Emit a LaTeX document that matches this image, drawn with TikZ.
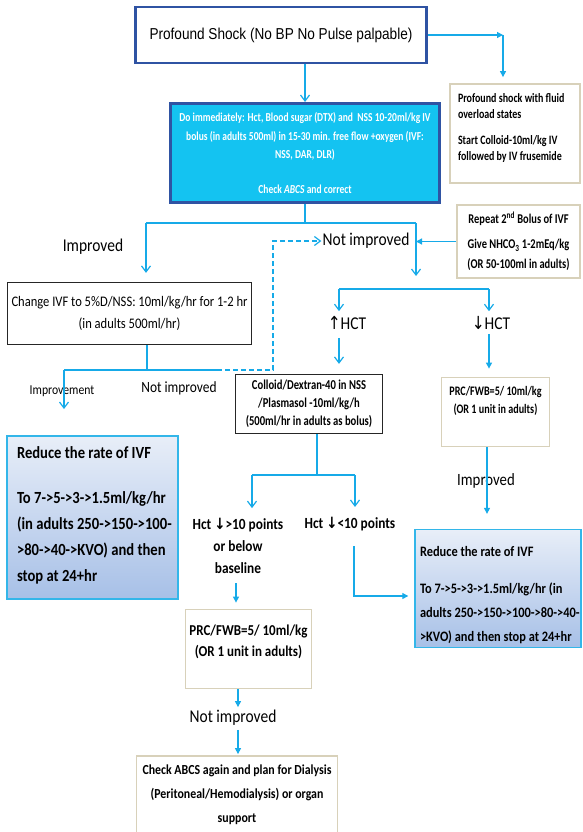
\documentclass[tikz,border=0pt]{standalone}
\usepackage{fontspec}
\setmainfont{Carlito}[FakeStretch=0.86]
\newfontfamily\narrowfont{Carlito}[FakeStretch=0.78]
\newfontfamily\arialfont{Liberation Sans}[FakeStretch=0.86]
\newfontfamily\arrowfont{DejaVu Sans}[FakeStretch=0.86]
\usetikzlibrary{arrows.meta,shapes}
\definecolor{flowblue}{HTML}{16AAE8}
\definecolor{darkframe}{HTML}{2F53A3}
\definecolor{cyanfill}{HTML}{14C3F1}
\definecolor{beige}{HTML}{D8D1BA}
\definecolor{paleblue}{HTML}{E8EEF8}
\definecolor{midblue}{HTML}{A7C0E7}
\definecolor{skyframe}{HTML}{33B6E9}
\newcommand{\setsize}[2]{\fontsize{#1}{#2}\selectfont\exhyphenpenalty=10000 }
\tikzstyle{flow}=[draw=flowblue, line width=1.2pt]
\tikzstyle{open arrow}=[flow, -{Straight Barb[length=6pt,width=9pt]}]
\tikzstyle{filled arrow}=[flow, -{Triangle[length=6pt,width=6pt]}]
\tikzstyle{shock box}=[draw=darkframe, line width=2.6pt, minimum width=291pt, minimum height=56pt, font=\arialfont\setsize{15.8}{18}]
\tikzstyle{urgent box}=[draw=darkframe, fill=cyanfill, line width=3pt, text=white, align=center, minimum width=269pt, minimum height=99pt, font=\narrowfont\setsize{12.2}{18.5}\bfseries]
\tikzstyle{plain box}=[draw=black!85, line width=1.2pt, align=center]
\tikzstyle{beige box}=[draw=beige, line width=1.8pt, align=center]
\tikzstyle{rate box}=[draw=skyframe, line width=1.4pt, top color=paleblue, bottom color=midblue, align=flush left]
\tikzstyle{tag}=[inner sep=1pt]

\begin{document}
\begin{tikzpicture}[x=1pt,y=-1pt]
    \useasboundingbox (0,0) rectangle (582,832);
    % First we draw the boxes
    \node[shock box] (shock) at (281,35) {Profound Shock (No BP No Pulse palpable)};
    \node[urgent box] (bolus) at (305,153) {Do immediately: Hct, Blood sugar (DTX) and\ \ NSS 10-20ml/kg IV\\ bolus (in adults 500ml) in 15-30 min. free flow +oxygen (IVF:\\ NSS, DAR, DLR)\\[16pt] Check \textit{ABCS} and correct};
    \node[beige box, align=flush left, text width=114pt, minimum width=130pt, minimum height=99pt, font=\narrowfont\setsize{12.8}{16}\bfseries] (overload) at (515,133.5) {Profound shock with fluid\\ overload states\\[10pt] Start Colloid-10ml/kg IV\\ followed by IV frusemide\\[-3pt] \mbox{}};
    \node[beige box, minimum width=123pt, minimum height=73pt, font=\narrowfont\setsize{13.4}{20}\bfseries] (repeat) at (518.5,241.5) {Repeat 2\textsuperscript{nd} Bolus of IVF\\[5pt] Give NHCO\textsubscript{3} 1-2mEq/kg\\ (OR 50-100ml in adults)};
    \node[plain box, minimum width=244pt, minimum height=62pt, font=\setsize{14.6}{22}] (change) at (129.5,313.5) {Change IVF to 5\%D/NSS: 10ml/kg/hr for 1-2 hr\\ (in adults 500ml/hr)};
    \node[plain box, minimum width=147pt, minimum height=59pt, font=\narrowfont\setsize{13.6}{18}\bfseries] (colloid) at (309,404) {Colloid/Dextran-40 in NSS\\ /Plasmasol -10ml/kg/h\\ (500ml/hr in adults as bolus)};
    \node[beige box, minimum width=108pt, minimum height=69pt, font=\narrowfont\setsize{13}{18}\bfseries] (prcright) at (495.5,412) {PRC/FWB=5/ 10ml/kg\\ (OR 1 unit in adults)\\[6pt] \mbox{}};
    \node[rate box, text width=151pt, inner xsep=10pt, minimum height=163pt, font=\setsize{17}{26}\bfseries] (rateleft) at (92.5,517.5) {Reduce the rate of IVF\\[19pt] \mbox{To 7->5->3->1.5ml/kg/hr}\\ \mbox{(in adults 250->150->100-}\\ \mbox{>80->40->KVO) and then}\\ stop at 24+hr\\[-20pt] \mbox{}};
    \node[rate box, text width=156pt, inner xsep=5pt, minimum height=111pt, font=\setsize{14.4}{24}\bfseries] (rateright) at (498,588.5) {\mbox{}\\ Reduce the rate of IVF\\[13pt] \mbox{To 7->5->3->1.5ml/kg/hr (in}\\ \mbox{adults 250->150->100->80->40-}\\ \mbox{>KVO) and then stop at 24+hr}};
    \node[beige box, minimum width=126pt, minimum height=79pt, font=\setsize{15.1}{21}\bfseries] (prcleft) at (248.5,649) {PRC/FWB=5/ 10ml/kg\\ (OR 1 unit in adults)\\[-4pt] \mbox{}};
    \node[beige box, minimum width=201pt, minimum height=78pt, font=\setsize{13.8}{24}\bfseries] (dialysis) at (237,795) {Check ABCS again and plan for Dialysis\\ (Peritoneal/Hemodialysis) or organ\\ support};

    % Then the words on the connectors
    \foreach \pos/\name/\txt in {{(93,247)/improved/Improved}, {(366,241)/notimproved/Not improved}, {(347,323)/hctup/{{\arrowfont ↑}HCT}}, {(491,323)/hctdown/{{\arrowfont ↓}HCT}}, {(233,718)/notimprovedlow/Not improved}}
        \node[tag, font=\setsize{18}{20}] (\name) at \pos {\txt};
    \node[tag, font=\setsize{13.6}{15}] (improvement) at (62,391) {Improvement};
    \node[tag, font=\setsize{15.6}{17}] (notimprovedleft) at (179,388) {Not improved};
    \node[tag, font=\setsize{17.2}{19}] (improvedright) at (486,481) {Improved};
    \node[tag, align=center, font=\setsize{15.5}{22}\bfseries] (hctmore) at (238,546) {Hct {\arrowfont ↓}>10 points\\ or below\\ baseline};
    \node[tag, font=\setsize{15.5}{22}\bfseries] (hctless) at (350,524) {Hct {\arrowfont ↓}<10 points};

    % Junctions and free ends
    \foreach \pos/\name in {{(503,35)/corner}, {(305,223)/splitA}, {(146,223)/leftA}, {(416,223)/rightA}, {(339,289)/hctL}, {(489,289)/hctR}, {(147,370)/changeout}, {(64,370)/impL}, {(64,409)/impend}, {(217,370)/dashstart}, {(273,370)/dashup}, {(317,475)/splitB}, {(252,475)/moreA}, {(355,475)/lessA}, {(236,583)/morex}, {(354,596)/lessturn}, {(487,447)/prcx}, {(238,689)/dialx}}
        \node[coordinate] (\name) at \pos {};

    % Connect the boxes
    \draw[filled arrow] (shock.east) -- (corner);
    \draw[filled arrow, shorten >=6pt] (corner) -- (corner |- overload.north);
    \draw[open arrow] (shock.south -| bolus.north) -- (bolus.north);
    \draw[flow] (bolus.south) -- (splitA);
    \draw[flow] (leftA) -- (rightA);
    \draw[open arrow, shorten >=9pt] (leftA) -- (leftA |- change.north);
    \draw[open arrow, shorten >=13pt] (rightA) -- (rightA |- hctL);
    \draw[filled arrow] (repeat.west) -- (repeat.west -| rightA);
    \draw[flow] (hctL) -- (hctR);
    \foreach \split/\txt in {hctL/hctup, hctR/hctdown}
        \path[open arrow, shorten >=4pt] (\split) -- (\split |- \txt.north);
    \draw[open arrow, shorten <=7pt, shorten >=10pt] (hctup.south -| hctL) -- (hctL |- colloid.north);
    \draw[filled arrow, shorten <=3pt, shorten >=8pt] (hctdown.south -| hctR) -- (hctR |- prcright.north);
    \draw[flow] (change.south -| changeout) -- (changeout);
    \draw[flow] (impL) -- (dashstart);
    \draw[flow, dash pattern=on 5pt off 3pt, open arrow] (dashstart) -- (dashup) |- (notimproved.west);
    \draw[open arrow] (impL) -- (impend);
    \draw[flow] (colloid.south -| splitB) -- (splitB);
    \draw[flow] (moreA) -- (lessA);
    \foreach \split/\txt in {moreA/hctmore, lessA/hctless}
        \path[open arrow, shorten >=9pt] (\split) -- (\split |- \txt.north);
    \draw[filled arrow, shorten >=6pt] (morex) -- (morex |- prcleft.north);
    \draw[filled arrow, shorten <=14pt, shorten >=6pt] (hctless.south -| lessturn) -- (lessturn) -- (lessturn -| rateright.west);
    \draw[filled arrow, shorten >=15pt] (prcx) -- (prcx |- rateright.north);
    \draw[filled arrow, shorten >=2pt] (dialx) -- (dialx |- notimprovedlow.north);
    \draw[filled arrow, shorten <=3pt, shorten >=1pt] (notimprovedlow.south -| dialx) -- (dialx |- dialysis.north);
\end{tikzpicture}
\end{document}
